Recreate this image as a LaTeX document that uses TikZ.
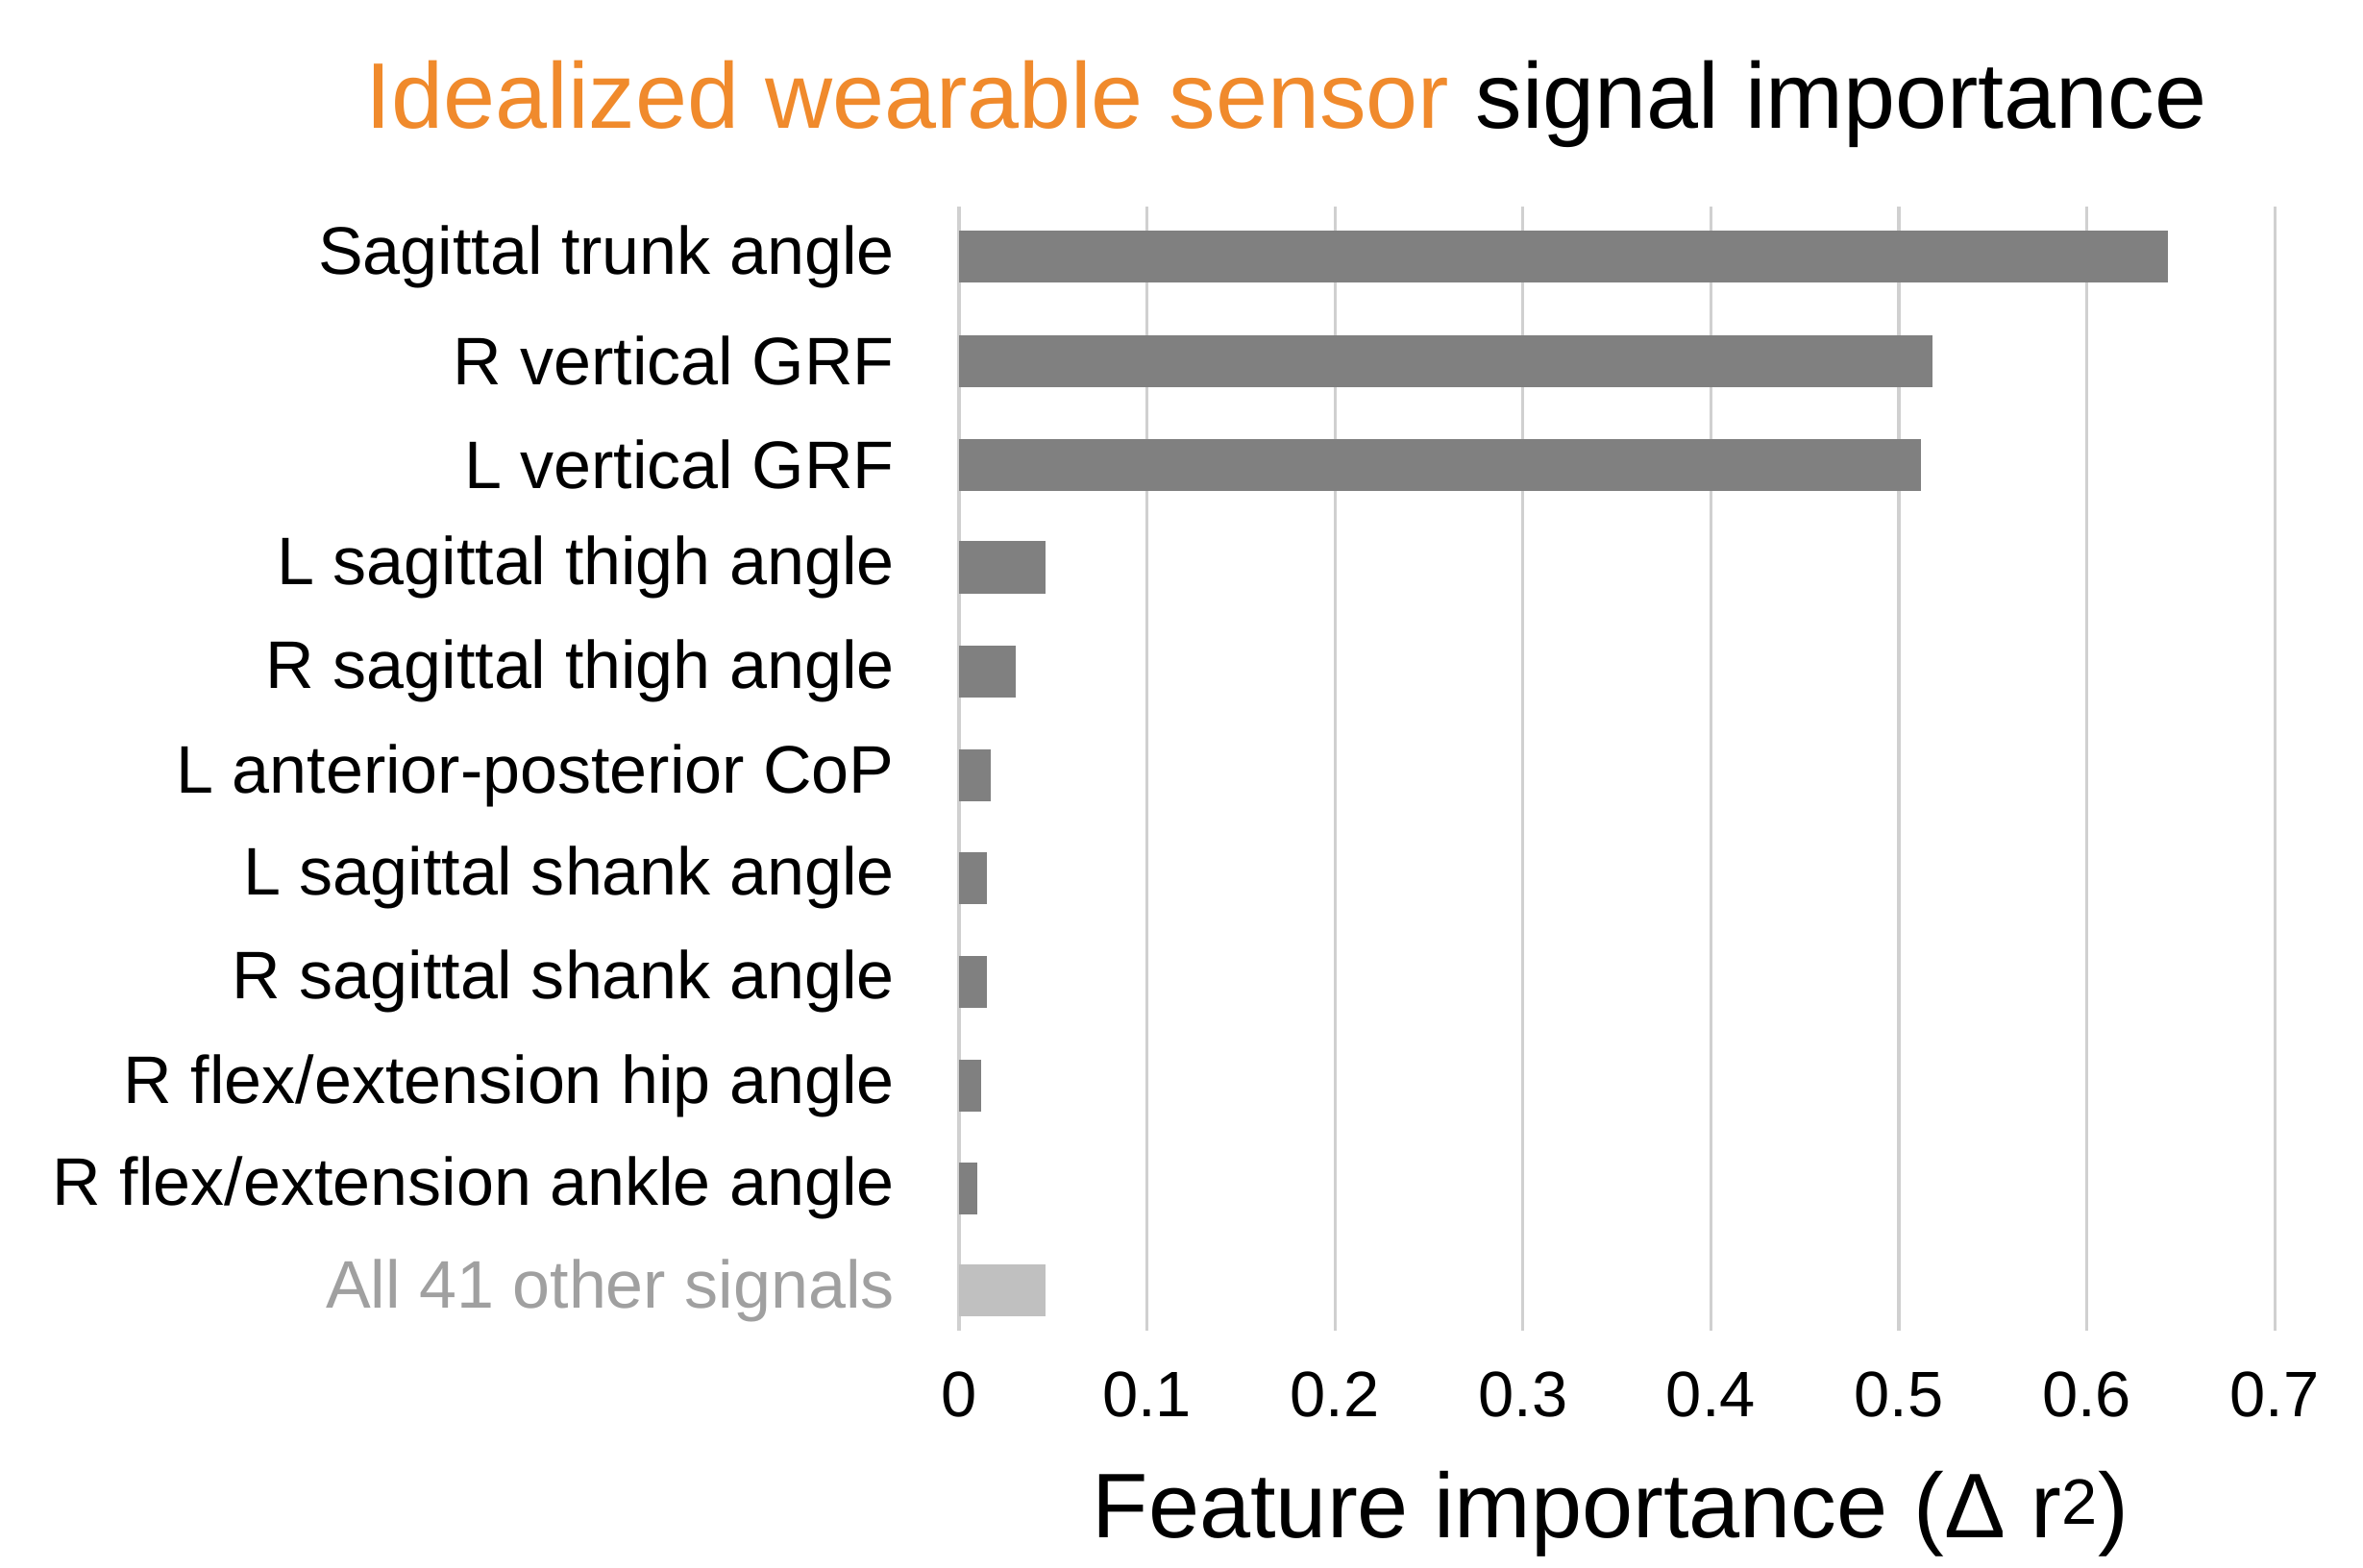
\documentclass[tikz,border=0pt]{standalone}
\usepackage{fontspec}
\setmainfont{Liberation Sans}
\definecolor{bar}{HTML}{808080}
\definecolor{barlight}{HTML}{C0C0C0}
\definecolor{grid}{HTML}{D0D0D0}
\definecolor{orng}{HTML}{F08A2C}
\definecolor{lbl}{HTML}{A0A0A0}
\begin{document}
\begin{tikzpicture}[x=1pt,y=-1pt,
  lab/.style={anchor=east,inner sep=0pt,font=\fontsize{44}{47}\selectfont},
  tick/.style={inner sep=0pt,font=\fontsize{42}{45}\selectfont},
  gline/.style={draw=grid,line width=2pt}]
\useasboundingbox (0,0) rectangle (1545,1025);
\fill[white] (0,0) rectangle (1545,1025);
\foreach \i in {0,...,7}{
  \draw[gline] ({627+122.9*\i},135) -- ({627+122.9*\i},870);
  \node[tick] (t\i) at ({627+122.9*\i},912) {\ifnum\i=0 0\else 0.\i\fi};
}
\foreach \n/\v/\y/\t in {
  1/0.643/168/{Sagittal trunk angle},
  2/0.518/236/{R vertical GRF},
  3/0.512/304/{L vertical GRF},
  4/0.046/371/{L sagittal thigh angle},
  5/0.030/439/{R sagittal thigh angle},
  6/0.017/507/{L anterior-posterior CoP},
  7/0.015/574/{L sagittal shank angle},
  8/0.015/642/{R sagittal shank angle},
  9/0.012/710/{R flex/extension hip angle},
  10/0.010/777/{R flex/extension ankle angle}}{
  \fill[bar] (627,\y-17) rectangle ({627+1229*\v},\y+17);
  \node[lab] (l\n) at (585,\y) {\t};
}
\fill[barlight] (627,827) rectangle ({627+1229*0.046},861);
\node[lab,text=lbl] (l11) at (585,844) {All 41 other signals};
\node[inner sep=0pt,font=\fontsize{61}{66}\selectfont] (title) at (841,68)
  {\textcolor{orng}{Idealized wearable sensor} signal importance};
\node[inner sep=0pt,font=\fontsize{60}{66}\selectfont] (xlab) at (1053,990)
  {Feature importance (Δ r\textsuperscript{2})};
\end{tikzpicture}
\end{document}
